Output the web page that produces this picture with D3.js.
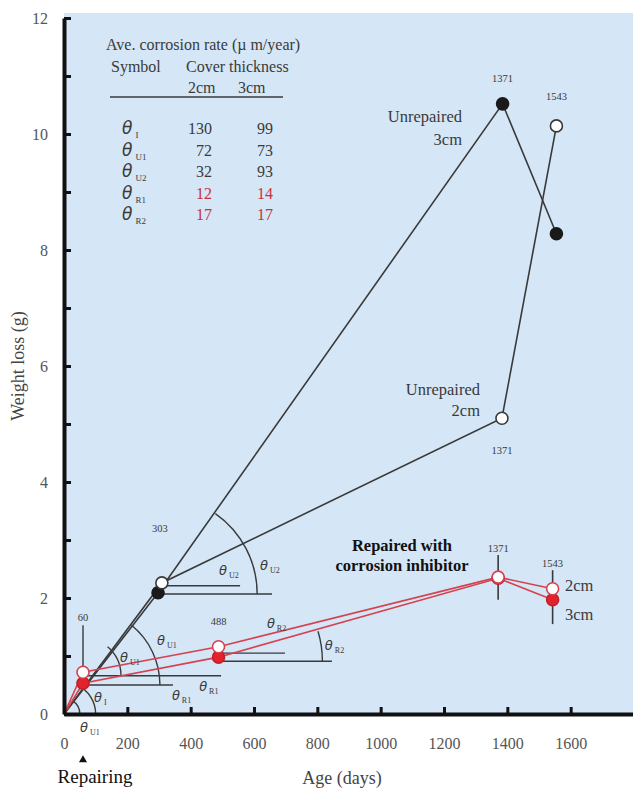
<!DOCTYPE html>
<html>
<head>
<meta charset="utf-8">
<script src="https://cdn.jsdelivr.net/npm/d3@7"></script>
<style>
  body { margin: 0; background: #fff; }
  svg { display: block; font-family: "Liberation Serif", "Times New Roman", serif; }
</style>
</head>
<body>
<svg id="chart" width="633" height="795"></svg>
<script>
// ---- data ----
const unrep3Days = [0, 297, 1385, 1555];
const unrep3Loss = [0, 2.09, 10.52, 8.28];
const unrep2Days = [0, 309, 1383, 1555];
const unrep2Loss = [0, 2.26, 5.10, 10.14];
const rep2Days = [0, 60, 488, 1371, 1543];
const rep2Loss = [0, 0.72, 1.16, 2.36, 2.16];
const rep3Days = [0, 60, 488, 1371, 1543];
const rep3Loss = [0, 0.53, 0.98, 2.34, 1.97];

// scatter bars on the repaired points
const errDays = [1371, 1543];
const errLow = [1.97, 1.55];
const errHigh = [2.74, 2.48];

// table in the corner
const tableSymbols = ["I", "U1", "U2", "R1", "R2"];
const rate2cm = [130, 72, 32, 12, 17];
const rate3cm = [99, 73, 93, 14, 17];

const xTicks = [0, 200, 400, 600, 800, 1000, 1200, 1400, 1600, 1800];
const yTicks = [0, 1, 2, 3, 4, 5, 6, 7, 8, 9, 10, 11, 12];

const grey = "#3a3a3a";
const red = "#d4434f";

const svg = d3.select("#chart");
const x = d3.scaleLinear().domain([0, 1800]).range([64, 634]);
const y = d3.scaleLinear().domain([0, 12]).range([714, 18]);

// background of the plot
svg.append("rect")
  .attr("x", x(0)).attr("y", y(12) - 5)
  .attr("width", x(1800) - x(0)).attr("height", y(0) - y(12) + 5)
  .attr("fill", "#d5e6f6");

// ---- angle construction lines ----
const hLines = [
  {d0: 60, d1: 496, v: 0.66},
  {d0: 60, d1: 344, v: 0.50},
  {d0: 309, d1: 556, v: 2.21},
  {d0: 297, d1: 657, v: 2.07},
  {d0: 488, d1: 698, v: 1.05},
  {d0: 488, d1: 846, v: 0.91}
];
svg.append("g").selectAll("line").data(hLines).enter().append("line")
  .attr("x1", d => x(d.d0)).attr("x2", d => x(d.d1))
  .attr("y1", d => y(d.v)).attr("y2", d => y(d.v))
  .attr("stroke", grey).attr("stroke-width", 1.4);

const arcs = [
  {cd: 0, cv: 0, r: 100, td: 60, tv: 0.72},
  {cd: 0, cv: 0, r: 50, td: 60, tv: 0.53},
  {cd: 60, cv: 0.66, r: 120, td: 309, tv: 2.26},
  {cd: 60, cv: 0.50, r: 243, td: 297, tv: 2.09},
  {cd: 300, cv: 2.07, r: 310, td: 1385, tv: 10.52},
  {cd: 488, cv: 0.91, r: 328, td: 1371, tv: 2.36}
];
function arcPath(d) {
  const cx = x(d.cd), cy = y(d.cv), r = x(d.r) - x(0);
  const a = Math.atan2(cy - y(d.tv), x(d.td) - cx);
  return `M${cx + r},${cy} A${r},${r} 0 0 0 ${cx + r * Math.cos(a)},${cy - r * Math.sin(a)}`;
}
svg.append("g").selectAll("path").data(arcs).enter().append("path")
  .attr("d", arcPath).attr("fill", "none")
  .attr("stroke", grey).attr("stroke-width", 1.4);

// little leader above the 60 day point
svg.append("line")
  .attr("x1", x(60)).attr("x2", x(60)).attr("y1", y(1.53)).attr("y2", y(0.72))
  .attr("stroke", grey).attr("stroke-width", 1.4);

// ---- series lines ----
const line = d3.line().x(d => x(d[0])).y(d => y(d[1]));
const zip = (a, b) => a.map((v, i) => [v, b[i]]);

svg.append("path").datum(zip(unrep3Days, unrep3Loss)).attr("d", line)
  .attr("fill", "none").attr("stroke", grey).attr("stroke-width", 1.6);
svg.append("path").datum(zip(unrep2Days, unrep2Loss)).attr("d", line)
  .attr("fill", "none").attr("stroke", grey).attr("stroke-width", 1.6);
svg.append("path").datum(zip(rep3Days, rep3Loss)).attr("d", line)
  .attr("fill", "none").attr("stroke", red).attr("stroke-width", 1.6);
svg.append("path").datum(zip(rep2Days, rep2Loss)).attr("d", line)
  .attr("fill", "none").attr("stroke", red).attr("stroke-width", 1.6);

// error bars
svg.append("g").selectAll("line").data(errDays).enter().append("line")
  .attr("x1", d => x(d)).attr("x2", d => x(d))
  .attr("y1", (d, i) => y(errLow[i])).attr("y2", (d, i) => y(errHigh[i]))
  .attr("stroke", grey).attr("stroke-width", 1.6);

// ---- markers ----
function markers(days, loss, fill, stroke) {
  svg.append("g").selectAll("circle").data(zip(days, loss).slice(1)).enter().append("circle")
    .attr("cx", d => x(d[0])).attr("cy", d => y(d[1])).attr("r", 6)
    .attr("fill", fill).attr("stroke", stroke).attr("stroke-width", 1.6);
}
markers(unrep3Days, unrep3Loss, "#1a1a1a", "#1a1a1a");
markers(unrep2Days, unrep2Loss, "#ffffff", grey);
markers(rep3Days, rep3Loss, "#e3232b", "#c0202a");
markers(rep2Days, rep2Loss, "#ffffff", red);

// ---- axes ----
const yAxis = svg.append("g").attr("transform", `translate(${x(0)},0)`)
  .call(d3.axisLeft(y).tickValues(yTicks).tickSize(-7).tickSizeOuter(0).tickPadding(16)
    .tickFormat(d => d % 2 === 0 ? d : ""));
const xAxis = svg.append("g").attr("transform", `translate(0,${y(0)})`)
  .call(d3.axisBottom(x).tickValues(xTicks).tickSize(-7).tickSizeOuter(0).tickPadding(24)
    .tickFormat(d => d < 1800 ? d : ""));
[yAxis, xAxis].forEach(g => {
  g.select(".domain").attr("stroke", "#111").attr("stroke-width", 4);
  g.selectAll(".tick line").attr("stroke", "#111").attr("stroke-width", 3);
  g.selectAll(".tick text").attr("fill", "#555").style("font-size", "16px")
    .style("font-family", "Liberation Serif, serif");
});

svg.append("text")
  .attr("transform", `translate(24,${y(6)}) rotate(-90)`)
  .attr("text-anchor", "middle").attr("fill", "#444").style("font-size", "18px")
  .text("Weight loss (g)");
svg.append("text")
  .attr("x", 342).attr("y", 784).attr("text-anchor", "middle")
  .attr("fill", "#444").style("font-size", "18px").text("Age (days)");
svg.append("text")
  .attr("x", 95).attr("y", 783).attr("text-anchor", "middle")
  .attr("fill", "#111").style("font-size", "19px").text("Repairing");
svg.append("path")
  .attr("d", d3.symbol(d3.symbolTriangle, 28)())
  .attr("transform", `translate(${x(60)},760)`).attr("fill", "#111");

// ---- theta labels ----
const thetaLabels = [
  {d: 120, v: 0.29, s: "I"},
  {d: 76, v: -0.22, s: "U1"},
  {d: 202, v: 0.98, s: "U1"},
  {d: 319, v: 1.28, s: "U1"},
  {d: 452, v: 0.48, s: "R1"},
  {d: 366, v: 0.33, s: "R1"},
  {d: 515, v: 2.48, s: "U2"},
  {d: 644, v: 2.57, s: "U2"},
  {d: 666, v: 1.57, s: "R2"},
  {d: 849, v: 1.19, s: "R2"}
];
const th = svg.append("g").selectAll("text").data(thetaLabels).enter().append("text")
  .attr("x", d => x(d.d) - 8).attr("y", d => y(d.v) + 5).attr("fill", grey);
th.append("tspan").style("font-family", "DejaVu Sans, sans-serif").style("font-size", "13px")
  .style("font-style", "italic").text("θ");
th.append("tspan").attr("dx", 2).attr("dy", 3).style("font-size", "8px").text(d => d.s);

// ---- day labels ----
const dayLabels = [
  {d: 60, v: 1.67, t: "60"},
  {d: 303, v: 3.2, t: "303"},
  {d: 488, v: 1.6, t: "488"},
  {d: 1385, v: 10.97, t: "1371"},
  {d: 1555, v: 10.66, t: "1543"},
  {d: 1383, v: 4.55, t: "1371"},
  {d: 1371, v: 2.86, t: "1371"},
  {d: 1543, v: 2.6, t: "1543"}
];
svg.append("g").selectAll("text").data(dayLabels).enter().append("text")
  .attr("x", d => x(d.d)).attr("y", d => y(d.v) + 4).attr("text-anchor", "middle")
  .attr("fill", grey).style("font-size", "10.5px").text(d => d.t);

// ---- series labels ----
function label(tx, ty, t, anchor, size, weight, color) {
  svg.append("text").attr("x", tx).attr("y", ty).attr("text-anchor", anchor)
    .attr("fill", color).style("font-size", size).style("font-weight", weight).text(t);
}
label(462, 122, "Unrepaired", "end", "16.5px", "normal", grey);
label(462, 145, "3cm", "end", "16.5px", "normal", grey);
label(480, 395, "Unrepaired", "end", "16.5px", "normal", grey);
label(480, 416, "2cm", "end", "16.5px", "normal", grey);
label(402, 551, "Repaired with", "middle", "16.5px", "bold", "#111");
label(402, 571, "corrosion inhibitor", "middle", "16.5px", "bold", "#111");
label(565, 591, "2cm", "start", "16.5px", "normal", grey);
label(565, 620, "3cm", "start", "16.5px", "normal", grey);

// ---- corrosion-rate table ----
label(106, 50, "Ave. corrosion rate (\u00b5 m/year)", "start", "16px", "normal", grey);
label(111, 72, "Symbol", "start", "16px", "normal", grey);
label(186, 72, "Cover thickness", "start", "16px", "normal", grey);
label(188, 93, "2cm", "start", "16px", "normal", grey);
label(238, 93, "3cm", "start", "16px", "normal", grey);
svg.append("line").attr("x1", 110).attr("x2", 283).attr("y1", 97).attr("y2", 97)
  .attr("stroke", grey).attr("stroke-width", 1.3);

const rowY = d3.scaleLinear().domain([0, 4]).range([134, 220]);
const rows = svg.append("g").selectAll("g").data(tableSymbols).enter().append("g");
const sym = rows.append("text").attr("x", 122).attr("y", (d, i) => rowY(i)).attr("fill", grey);
sym.append("tspan").style("font-family", "DejaVu Sans, sans-serif").style("font-size", "17px")
  .style("font-style", "italic").text("θ");
sym.append("tspan").attr("dx", 3).attr("dy", 4).style("font-size", "9px").text(d => d);
rows.append("text").attr("x", 212).attr("y", (d, i) => rowY(i)).attr("text-anchor", "end")
  .attr("fill", (d, i) => i >= 3 ? "#c8323c" : grey).style("font-size", "16px")
  .text((d, i) => rate2cm[i]);
rows.append("text").attr("x", 273).attr("y", (d, i) => rowY(i)).attr("text-anchor", "end")
  .attr("fill", (d, i) => i >= 3 ? "#c8323c" : grey).style("font-size", "16px")
  .text((d, i) => rate3cm[i]);
</script>
</body>
</html>
